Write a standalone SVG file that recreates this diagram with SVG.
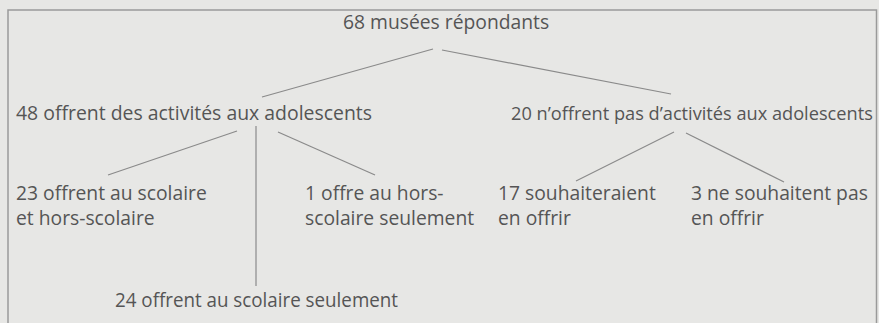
<svg xmlns="http://www.w3.org/2000/svg" width="879" height="323" viewBox="0 0 879 323">
  <style>
    text { font-family: "Open Sans", "Noto Sans", sans-serif; font-size: 19.3px; fill: #555; }
    .link { stroke: #8a8a8a; stroke-width: 1.2; fill: none; }
  </style>
  <rect x="0" y="0" width="879" height="323" fill="#e7e7e5"/>
  <rect x="8" y="10" width="868.5" height="330" fill="none" stroke="#9a9a9a" stroke-width="1.5"/>

  <g id="connectors">
    <line class="link" x1="433" y1="49" x2="262" y2="97"/>
    <line class="link" x1="442" y1="50" x2="671" y2="94"/>
    <line class="link" x1="237" y1="131" x2="108" y2="175"/>
    <line class="link" x1="256" y1="126" x2="256" y2="286"/>
    <line class="link" x1="278" y1="132" x2="375" y2="175"/>
    <line class="link" x1="674" y1="132" x2="576" y2="181"/>
    <line class="link" x1="686" y1="133" x2="784" y2="182"/>
  </g>

  <g id="root"><text x="343" y="29">68 musées répondants</text></g>
  <g id="offer"><text x="16" y="120" textLength="356" lengthAdjust="spacingAndGlyphs">48 offrent des activités aux adolescents</text></g>
  <g id="no-offer"><text x="511" y="120" style="font-size:18.2px">20 n’offrent pas d’activités aux adolescents</text></g>
  <g id="both">
    <text x="16" y="200">23 offrent au scolaire</text>
    <text x="16" y="225">et hors-scolaire</text>
  </g>
  <g id="extra-only">
    <text x="305" y="200">1 offre au hors-</text>
    <text x="305" y="225">scolaire seulement</text>
  </g>
  <g id="school-only"><text x="115" y="307" textLength="283" lengthAdjust="spacingAndGlyphs">24 offrent au scolaire seulement</text></g>
  <g id="would-like">
    <text x="498" y="200">17 souhaiteraient</text>
    <text x="498" y="225">en offrir</text>
  </g>
  <g id="would-not">
    <text x="691" y="200">3 ne souhaitent pas</text>
    <text x="691" y="225">en offrir</text>
  </g>
</svg>
